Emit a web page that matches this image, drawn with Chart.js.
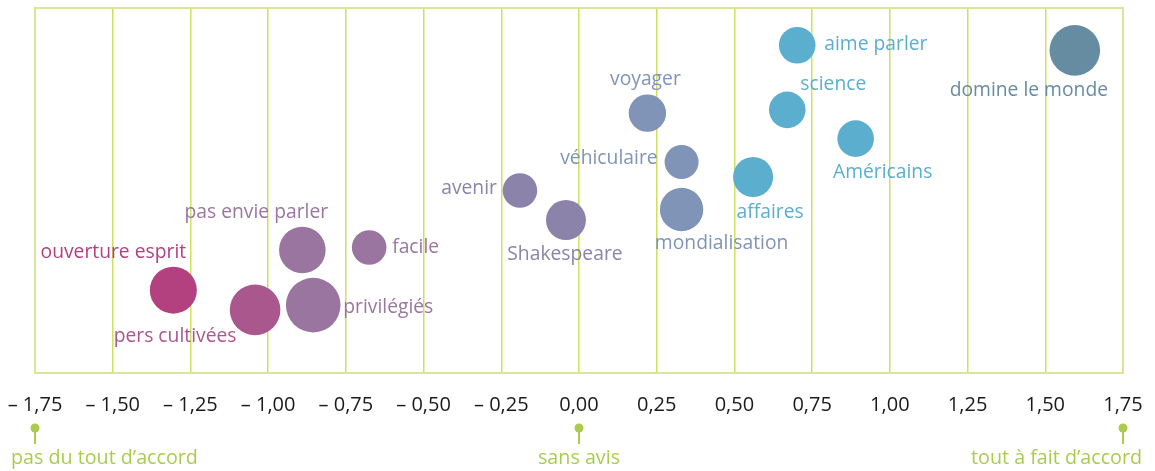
<!DOCTYPE html>
<html>
<head>
<meta charset="utf-8">
<script src="https://cdn.jsdelivr.net/npm/chart.js@4/dist/chart.umd.min.js"></script>
<style>
  html, body { margin: 0; padding: 0; background: #ffffff; }
  #wrap { width: 1155px; height: 471px; position: relative; }
</style>
</head>
<body>
<div id="wrap"><canvas id="c" width="1155" height="471"></canvas></div>
<script>
// ---- data ----
const labels = ["ouverture esprit", "pers cultivées", "pas envie parler", "privilégiés", "facile",
  "avenir", "Shakespeare", "voyager", "véhiculaire", "mondialisation",
  "affaires", "aime parler", "science", "Américains", "domine le monde"];
const xValues = [-1.305, -1.042, -0.89, -0.855, -0.675, -0.19, -0.042, 0.22, 0.33, 0.33, 0.56, 0.702, 0.67, 0.89, 1.595];
const yValues = [2.27, 1.73, 3.37, 1.86, 3.44, 5.0, 4.19, 7.12, 5.78, 4.48, 5.37, 8.98, 7.21, 6.42, 8.84];
const sizes = [23.5, 25.3, 23.3, 27.3, 17.3, 17.3, 20, 18.7, 17, 21.7, 20, 18.3, 18.3, 18.3, 25.3];
const xTicks = [-1.75, -1.5, -1.25, -1, -0.75, -0.5, -0.25, 0, 0.25, 0.5, 0.75, 1, 1.25, 1.5, 1.75];
const scaleNotes = [{ v: -1.75, text: "pas du tout d’accord" }, { v: 0, text: "sans avis" }, { v: 1.75, text: "tout à fait d’accord" }];

// ---- styles ----
const colors = ["#b3407f", "#a9578d", "#9a75a0", "#9a75a0", "#9a75a0",
  "#8b83a9", "#8b83a9", "#7f94b6", "#7f94b6", "#7f94b6",
  "#5caece", "#5caece", "#5caece", "#5caece", "#668ca1"];
// label offsets relative to bubble centre (px), with alignment
const labelPos = [
  { dx: -60, dy: -38, a: "center" }, { dx: -80, dy: 27, a: "center" }, { dx: -46, dy: -37, a: "center" },
  { dx: 30, dy: 2, a: "left" }, { dx: 23, dy: 0, a: "left" },
  { dx: -23, dy: -2, a: "right" }, { dx: -1, dy: 34, a: "center" }, { dx: -2, dy: -34, a: "center" },
  { dx: -24, dy: -4, a: "right" }, { dx: 40, dy: 34, a: "center" },
  { dx: 17, dy: 36, a: "center" }, { dx: 27, dy: -1, a: "left" }, { dx: 46, dy: -25, a: "center" },
  { dx: 27, dy: 34, a: "center" }, { dx: -46, dy: 40, a: "center" }
];
const FONT = "'Open Sans', sans-serif";
const GRID = "#cfe05f";
const BORDER = "#d7e796";
const NOTE = "#a9cc4e";

// bubbles must not push the plot area inwards
const BubbleCtl = Chart.registry.getController("bubble");
BubbleCtl.prototype.getMaxOverflow = function () { return 0; };

const points = labels.map((l, i) => ({ x: xValues[i], y: yValues[i], r: sizes[i] }));

const labelPlugin = {
  id: "bubbleLabels",
  afterDatasetsDraw(chart) {
    const ctx = chart.ctx;
    const meta = chart.getDatasetMeta(0);
    ctx.save();
    ctx.font = "19.3px " + FONT;
    ctx.textBaseline = "middle";
    meta.data.forEach((el, i) => {
      const p = labelPos[i];
      ctx.fillStyle = colors[i];
      ctx.textAlign = p.a;
      ctx.fillText(labels[i], el.x + p.dx, el.y + p.dy);
    });
    ctx.restore();
  }
};

const framePlugin = {
  id: "frame",
  beforeDatasetsDraw(chart) {
    const { ctx, chartArea: a } = chart;
    ctx.save();
    ctx.strokeStyle = BORDER;
    ctx.lineWidth = 2;
    ctx.strokeRect(a.left, a.top, a.right - a.left, a.bottom - a.top);
    ctx.restore();
  },
  afterDraw(chart) {
    const { ctx } = chart;
    const xs = chart.scales.x;
    ctx.save();
    ctx.fillStyle = NOTE;
    ctx.strokeStyle = NOTE;
    ctx.font = "19.7px " + FONT;
    ctx.textBaseline = "middle";
    scaleNotes.forEach((n, i) => {
      const px = xs.getPixelForValue(n.v);
      ctx.lineWidth = 2;
      ctx.beginPath();
      ctx.moveTo(px, 428);
      ctx.lineTo(px, 444);
      ctx.stroke();
      ctx.beginPath();
      ctx.arc(px, 428, 4.5, 0, Math.PI * 2);
      ctx.fill();
      if (i === 0) { ctx.textAlign = "left"; ctx.fillText(n.text, 11, 458); }
      else if (i === scaleNotes.length - 1) { ctx.textAlign = "right"; ctx.fillText(n.text, 1142, 458); }
      else { ctx.textAlign = "center"; ctx.fillText(n.text, px, 458); }
    });
    ctx.restore();
  }
};

new Chart(document.getElementById("c"), {
  type: "bubble",
  data: {
    datasets: [{
      data: points,
      backgroundColor: colors,
      borderWidth: 0,
      hoverBorderWidth: 0
    }]
  },
  options: {
    responsive: false,
    animation: false,
    events: [],
    layout: { padding: { left: 35, right: 32, top: 8, bottom: 0 } },
    plugins: { legend: { display: false }, tooltip: { enabled: false } },
    scales: {
      x: {
        type: "linear",
        min: -1.75,
        max: 1.75,
        afterBuildTicks(scale) { scale.ticks = xTicks.map(v => ({ value: v })); },
        afterFit(scale) {
          scale.height = 98;
          scale.paddingLeft = 0; scale.paddingRight = 0;
          scale.paddingTop = 0; scale.paddingBottom = 0;
        },
        grid: { color: GRID, lineWidth: 1.5, drawTicks: false },
        border: { color: BORDER, width: 2 },
        ticks: {
          padding: 20,
          color: "#1a1a1a",
          font: { family: FONT, size: 20 },
          maxRotation: 0,
          autoSkip: false,
          callback(v) {
            const s = Math.abs(v).toFixed(2).replace(".", ",");
            return v < 0 ? "– " + s : s;
          }
        }
      },
      y: { display: false, min: 0, max: 10 }
    }
  },
  plugins: [framePlugin, labelPlugin]
});
</script>
</body>
</html>
